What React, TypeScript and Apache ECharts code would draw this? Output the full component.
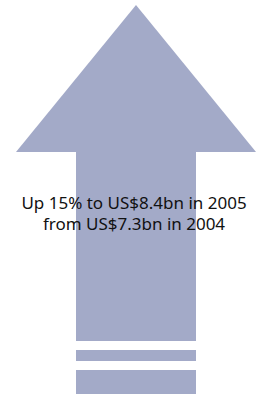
import React, { useEffect, useRef } from "react";
import * as echarts from "echarts";

const currency = "US$";
const years = [2004, 2005];
const revenueBn = [7.3, 8.4];
const growthPct = [15];
const captionLines = [
  `Up ${growthPct[0]}% to ${currency}${revenueBn[1]}bn in ${years[1]}`,
  `from ${currency}${revenueBn[0]}bn in ${years[0]}`,
];

const COLOR = "#A3AAC8";

export default function App() {
  const ref = useRef<HTMLDivElement>(null);
  useEffect(() => {
    document.body.style.margin = "0";
    const chart = echarts.init(ref.current!, null, { renderer: "svg" });
    chart.setOption({
      animation: false,
      graphic: [
        {
          type: "polygon",
          shape: { points: [[136, 5], [16, 152], [256, 152]] },
          style: { fill: COLOR },
        },
        { type: "rect", shape: { x: 76, y: 151, width: 120, height: 190 }, style: { fill: COLOR } },
        { type: "rect", shape: { x: 76, y: 350, width: 120, height: 11 }, style: { fill: COLOR } },
        { type: "rect", shape: { x: 76, y: 370, width: 120, height: 30 }, style: { fill: COLOR } },
        ...captionLines.map((t, i) => ({
          type: "text",
          x: 134,
          y: 202.5 + i * 21,
          style: {
            text: t,
            fill: "#111",
            font: "17px 'Noto Sans'",
            align: "center",
            verticalAlign: "middle",
          },
        })),
      ],
    });
    return () => chart.dispose();
  }, []);
  return <div ref={ref} style={{ width: 256, height: 394 }} />;
}
